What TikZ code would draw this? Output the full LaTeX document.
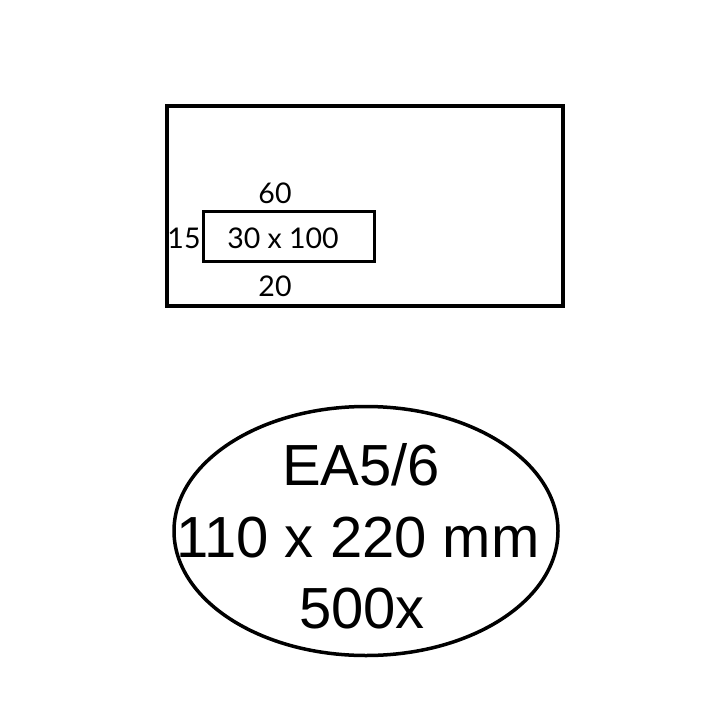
\documentclass[tikz,border=0pt]{standalone}
\usepackage{fontspec}
\setmainfont{Liberation Sans}
\newfontfamily\labelfont{Lato}
\usetikzlibrary{shapes.geometric}
\begin{document}
\begin{tikzpicture}[x=1pt,y=-1pt,
  envbox/.style={draw, line width=4pt, minimum width=396pt, minimum height=200pt, inner sep=0pt},
  winbox/.style={draw, line width=3pt, minimum width=171pt, minimum height=50pt, inner sep=0pt},
  smalltxt/.style={font=\labelfont\fontsize{28.5}{30}\selectfont, inner sep=0pt, anchor=base},
  bigtxt/.style={font=\fontsize{58}{60}\selectfont, inner sep=0pt, anchor=base},
  oval/.style={draw, ellipse, line width=3.5pt, minimum width=384pt, minimum height=249pt, inner sep=0pt}]
\useasboundingbox (0,0) rectangle (720,720);
\node[envbox] (env) at (365,206) {};
\node[winbox] (win) at (288.5,236.5) {};
\node[smalltxt] (top) at (275,203) {60};
\node[smalltxt] (left) at (184,248) {15};
\node[smalltxt] (size) at (283,248) {30 x 100};
\node[smalltxt] (bot) at (275,296) {20};
\node[oval] (ov) at (366,531) {};
\node[bigtxt] (l1) at (361,485) {EA5/6};
\node[bigtxt] (l2) at (358,557) {110 x 220 mm};
\node[bigtxt] (l3) at (362,628) {500x};
\end{tikzpicture}
\end{document}
